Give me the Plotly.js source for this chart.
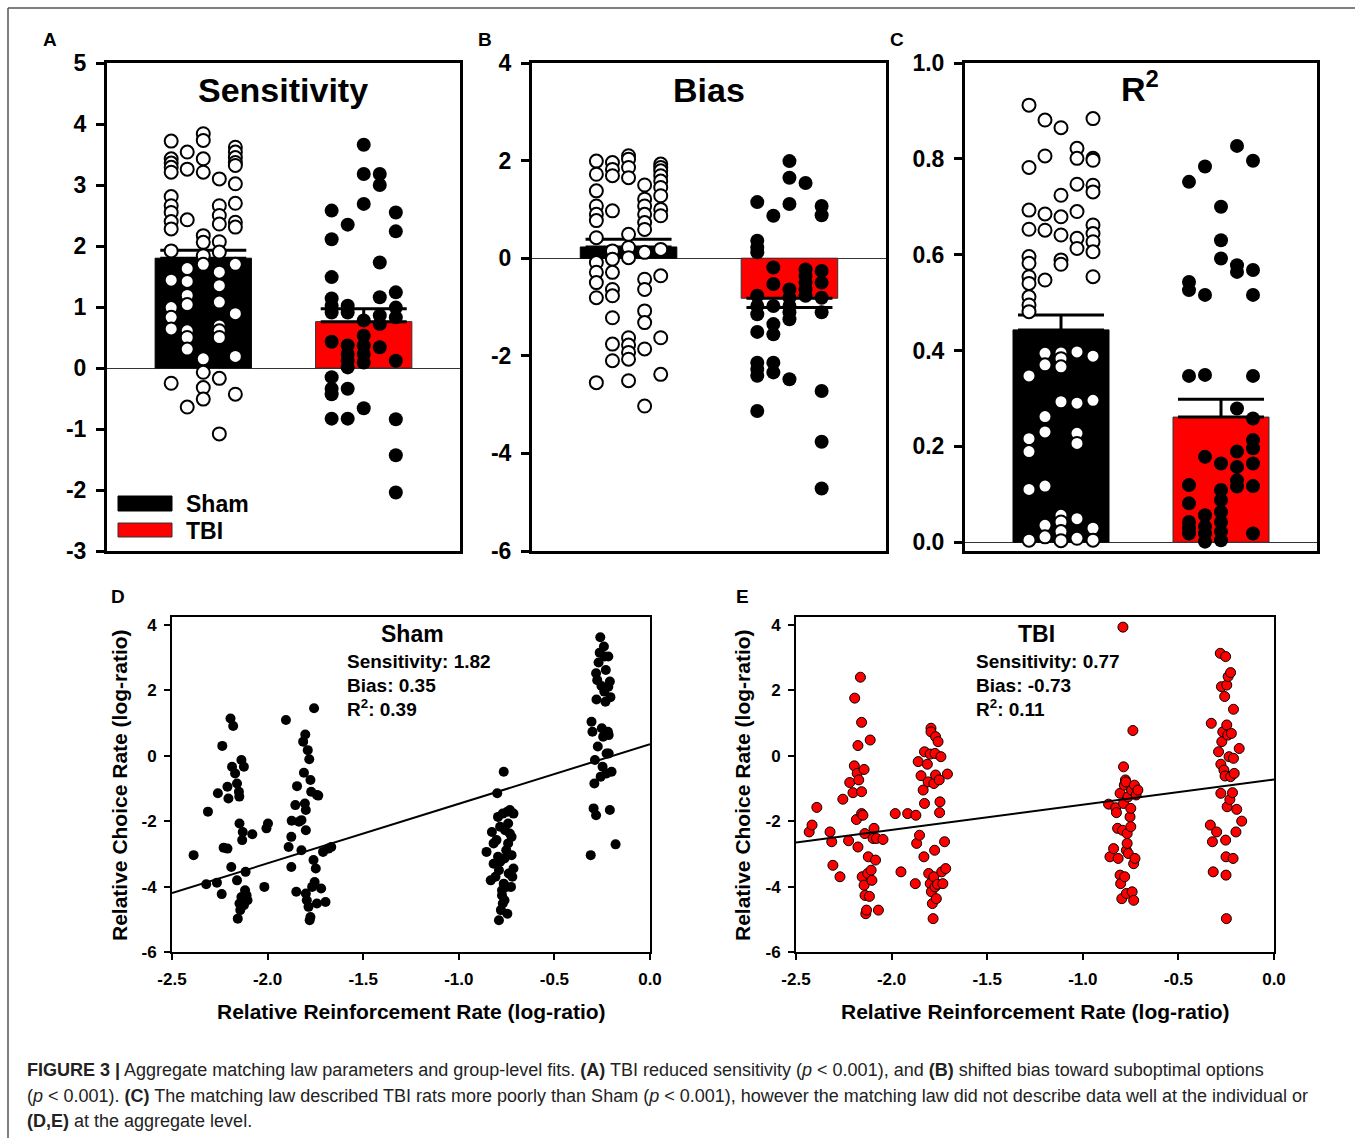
<!DOCTYPE html>
<html>
<head>
<meta charset="utf-8">
<script src="https://cdn.plot.ly/plotly-3.0.1.min.js"></script>
<style>html,body{margin:0;padding:0;background:#fff;} #chart{width:1355px;height:1138px;}</style>
</head>
<body>
<div id="chart"></div>
<script>
// ---------------- DATA ----------------
const groups = ['Sham', 'TBI'];

// Panel A: Sensitivity (individual points, by jitter column)
const sensSham = [
  [3.72,3.43,3.36,3.29,3.21,2.81,2.66,2.55,2.40,2.28,1.92,1.44,0.99,0.83,0.64,-0.25],
  [3.54,3.26,2.43,1.63,1.42,1.19,1.04,0.61,0.50,0.31,-0.64],
  [3.84,3.73,3.43,3.21,2.17,2.06,1.84,1.70,0.15,-0.07,-0.32,-0.51],
  [3.10,2.66,2.50,2.36,2.07,1.90,1.57,1.35,1.08,0.69,0.61,0.50,-0.17,-1.08],
  [3.62,3.54,3.45,3.37,3.32,3.02,2.70,2.39,2.31,1.70,0.89,0.19,-0.43]
];
const sensTBI = [
  [2.58,2.11,1.49,1.14,1.02,0.91,0.43,-0.15,-0.34,-0.43,-0.83],
  [2.35,1.02,0.91,0.37,0.23,0.12,0.01,-0.34,-0.83],
  [3.66,3.18,2.69,0.78,0.53,0.37,0.23,0.09,-0.66],
  [3.18,3.00,1.73,1.16,0.86,0.72,0.34],
  [2.55,2.24,1.24,0.99,0.83,0.12,-0.84,-1.43,-2.04]
];
const sensMean = [1.80, 0.76];
const sensSEM  = [0.13, 0.21];

// Panel B: Bias
const biasSham = [
  [1.99,1.72,1.38,1.07,0.90,0.77,0.42,-0.09,-0.29,-0.50,-0.81,-2.55],
  [1.96,1.82,1.69,0.97,0.15,-0.02,-0.29,-0.64,-0.77,-1.22,-1.76,-2.10],
  [2.10,2.03,1.86,1.65,0.49,0.22,0.01,-1.63,-1.78,-1.93,-2.07,-2.51],
  [1.50,1.21,1.07,0.90,0.73,0.59,0.12,-0.43,-0.64,-1.08,-1.32,-1.86,-3.03],
  [1.93,1.86,1.79,1.69,1.58,1.45,1.28,1.00,0.87,0.18,-0.36,-1.63,-2.38]
];
const biasTBI = [
  [1.15,0.36,0.22,0.12,-0.77,-0.98,-1.15,-1.51,-2.14,-2.27,-2.41,-3.13],
  [0.87,-0.19,-0.53,-0.98,-1.35,-1.56,-2.14,-2.34],
  [1.99,1.65,1.11,-0.64,-0.81,-0.98,-1.11,-1.25,-2.48],
  [1.54,-0.23,-0.36,-0.50,-0.64,-0.77],
  [1.07,0.88,-0.26,-0.50,-0.81,-1.11,-2.72,-3.76,-4.72]
];
const biasMean = [0.23, -0.82];
const biasSEM  = [0.16, 0.19];

// Panel C: R^2
const r2Sham = [
  [0.912,0.782,0.693,0.653,0.596,0.582,0.554,0.540,0.512,0.495,0.481,0.347,0.216,0.189,0.110,0.004],
  [0.881,0.806,0.685,0.651,0.547,0.394,0.370,0.262,0.230,0.117,0.035,0.011],
  [0.865,0.724,0.679,0.641,0.589,0.580,0.395,0.383,0.366,0.293,0.056,0.042,0.022,0.003],
  [0.822,0.801,0.747,0.690,0.634,0.613,0.397,0.290,0.227,0.206,0.049,0.008],
  [0.884,0.801,0.797,0.745,0.731,0.662,0.644,0.627,0.606,0.554,0.388,0.296,0.029,0.004]
];
const r2TBI = [
  [0.752,0.543,0.526,0.347,0.119,0.081,0.042,0.029,0.018],
  [0.784,0.516,0.349,0.178,0.056,0.032,0.018,0.001],
  [0.700,0.630,0.592,0.164,0.109,0.088,0.063,0.042,0.022,0.004],
  [0.827,0.578,0.564,0.279,0.189,0.157,0.129,0.116],
  [0.796,0.568,0.516,0.347,0.258,0.213,0.196,0.164,0.117,0.018]
];
const r2Mean = [0.443, 0.261];
const r2SEM  = [0.031, 0.037];

// Panel D: Sham aggregate (relative reinforcement rate vs relative choice rate)
const shamX = [
  -2.387,-2.321,-2.312,-2.265,-2.260,-2.240,-2.237,-2.230,-2.210,-2.210,-2.205,-2.194,-2.190,-2.180,-2.186,-2.170,-2.160,-2.160,-2.156,-2.150,-2.148,-2.147,-2.147,-2.143,-2.137,-2.137,-2.133,-2.130,-2.124,-2.124,-2.118,-2.115,-2.110,-2.105,-2.080,-2.017,-2.006,-1.998,
  -1.904,-1.890,-1.876,-1.876,-1.874,-1.855,-1.850,-1.846,-1.836,-1.823,-1.823,-1.814,-1.810,-1.805,-1.803,-1.800,-1.800,-1.800,-1.795,-1.790,-1.786,-1.782,-1.776,-1.780,-1.776,-1.772,-1.767,-1.760,-1.757,-1.754,-1.748,-1.742,-1.742,-1.735,-1.720,-1.710,-1.697,-1.682,-1.667,
  -0.855,-0.827,-0.799,-0.795,-0.790,-0.784,-0.780,-0.770,-0.765,-0.761,-0.758,-0.752,-0.746,-0.742,-0.739,-0.733,-0.724,-0.720,-0.714,-0.808,-0.818,-0.803,-0.774,-0.770,-0.752,-0.733,-0.727,-0.724,-0.742,-0.818,-0.790,-0.761,-0.765,-0.795,-0.784,-0.714,-0.833,-0.746,-0.774,
  -0.310,-0.306,-0.301,-0.295,-0.291,-0.288,-0.282,-0.282,-0.280,-0.276,-0.273,-0.269,-0.263,-0.260,-0.258,-0.254,-0.252,-0.248,-0.245,-0.241,-0.239,-0.237,-0.233,-0.231,-0.227,-0.227,-0.220,-0.218,-0.218,-0.216,-0.210,-0.207,-0.216,-0.201,-0.210,-0.180
];
const shamY = [
  -3.04,-3.93,-1.71,-3.88,-1.15,-4.23,0.30,-2.81,-2.84,-0.95,-1.31,1.14,-3.40,0.91,-0.34,-0.54,-0.85,-3.81,-4.98,-1.10,-1.25,-2.07,-4.52,-4.72,-0.13,-4.32,-2.58,-2.33,-0.34,-4.57,-4.11,-3.55,-4.27,-4.42,-2.40,-4.01,-2.22,-2.07,
  1.09,-2.79,-2.48,-3.40,-1.99,-1.51,-4.16,-0.93,-2.02,-2.89,-1.97,0.43,-0.52,-1.46,0.65,-1.66,-2.28,-4.21,-4.42,0.17,-4.62,-0.11,-4.93,-5.03,-0.74,-1.10,-4.01,-3.19,1.45,-3.86,-3.45,-1.20,-4.52,-1.22,-4.06,-2.94,-4.47,-2.84,-2.79,
  -2.94,-2.33,-1.15,-1.87,-5.03,-3.24,-4.72,-1.77,-0.49,-4.42,-2.28,-4.01,-1.71,-2.68,-3.60,-1.66,-3.04,-3.70,-3.45,-3.70,-3.30,-2.58,-4.11,-4.52,-2.89,-2.38,-4.01,-2.48,-2.07,-2.68,-3.50,-3.14,-3.91,-3.09,-2.17,-1.77,-3.81,-4.83,-4.27,
  -3.04,1.04,0.73,-1.61,-0.85,-0.13,2.52,-1.82,1.72,2.31,0.28,2.85,3.15,3.62,-0.64,2.13,0.84,-0.34,0.58,3.34,1.96,3.03,1.65,2.62,0.07,-0.54,0.73,3.03,2.11,0.63,2.27,1.79,0.07,-0.49,-1.66,-2.71
];

// Panel E: TBI aggregate
const tbiX = [
  -2.431,-2.416,-2.391,-2.322,-2.313,-2.307,-2.270,-2.255,-2.225,-2.219,-2.202,-2.195,-2.193,-2.184,-2.180,-2.176,-2.176,-2.172,-2.163,-2.157,-2.157,-2.157,-2.154,-2.150,-2.144,-2.144,-2.140,-2.139,-2.135,-2.131,-2.125,-2.122,-2.116,-2.112,-2.107,-2.103,-2.097,-2.092,-2.084,-2.079,-2.069,-2.045,
  -1.981,-1.951,-1.916,-1.876,-1.873,-1.869,-1.861,-1.854,-1.846,-1.835,-1.831,-1.828,-1.828,-1.813,-1.809,-1.806,-1.798,-1.798,-1.794,-1.794,-1.792,-1.787,-1.783,-1.779,-1.779,-1.775,-1.773,-1.773,-1.770,-1.770,-1.766,-1.760,-1.757,-1.751,-1.749,-1.747,-1.742,-1.738,-1.732,-1.723,-1.717,-1.708,
  -0.865,-0.858,-0.839,-0.828,-0.824,-0.818,-0.815,-0.805,-0.805,-0.802,-0.796,-0.792,-0.790,-0.787,-0.787,-0.783,-0.781,-0.777,-0.775,-0.772,-0.772,-0.768,-0.768,-0.764,-0.762,-0.753,-0.749,-0.749,-0.745,-0.742,-0.738,-0.734,-0.734,-0.730,-0.727,-0.721,-0.712,
  -0.333,-0.328,-0.322,-0.318,-0.300,-0.290,-0.281,-0.278,-0.278,-0.275,-0.273,-0.268,-0.262,-0.258,-0.256,-0.253,-0.253,-0.251,-0.251,-0.249,-0.247,-0.247,-0.245,-0.242,-0.240,-0.235,-0.231,-0.227,-0.227,-0.223,-0.217,-0.214,-0.212,-0.212,-0.208,-0.199,-0.195,-0.182,-0.169
];
const tbiY = [
  -2.33,-2.12,-1.58,-2.33,-2.63,-3.35,-3.70,-1.33,-2.60,-0.82,-1.13,-0.31,1.76,-1.95,-0.54,-2.79,0.31,-0.74,2.40,1.02,-1.10,-1.77,-3.70,-1.82,-3.96,-0.42,-2.38,-4.27,-4.83,-4.72,-3.60,-3.09,-4.30,0.48,-3.50,-3.81,-2.53,-2.22,-3.19,-2.53,-4.72,-2.56,
  -1.77,-3.55,-1.77,-3.91,-1.82,-2.68,-0.18,-2.43,-0.61,-1.05,-3.09,-1.46,0.12,-0.26,-0.80,-3.60,0.05,-3.91,0.84,0.73,-4.16,-4.52,-4.98,-0.85,-3.70,-2.89,0.07,-4.01,-0.59,0.58,-4.37,-3.93,0.43,-0.74,-1.74,-1.41,-0.03,-3.55,-3.91,-2.63,-3.45,-0.56,
  -1.48,-3.09,-2.84,-1.59,-1.74,-2.22,-3.14,-1.15,-3.65,-3.91,-4.37,-2.28,3.93,-0.34,-1.46,-0.90,-3.70,-0.74,-0.80,-4.21,-2.89,-2.38,-2.68,-1.26,-2.99,-1.87,-1.61,-2.17,-1.05,-4.16,0.77,-3.30,-4.42,-0.90,-3.14,-1.20,-1.05,
  -2.12,0.99,-2.63,-3.55,-2.33,0.12,3.13,-0.26,-1.15,2.11,0.43,0.73,-0.44,1.81,-0.62,3.03,-2.58,-3.09,-3.65,-4.98,2.16,0.94,-1.56,0.63,2.42,-0.03,-1.34,2.54,-0.64,0.68,-1.13,-3.14,1.42,-0.08,-0.54,-2.33,-1.64,0.22,-2.00
];

// Group-level matching law fits: [Sham, TBI]
const fitSens = [1.82, 0.77];
const fitBias = [0.35, -0.73];
const fitR2   = [0.39, 0.11];

// Tick labels
const ticksA = [-3,-2,-1,0,1,2,3,4,5];
const ticksB = [-6,-4,-2,0,2,4];
const ticksC = [0,0.2,0.4,0.6,0.8,1.0];
const ticksDEy = [-6,-4,-2,0,2,4];
const ticksDEx = [-2.5,-2.0,-1.5,-1.0,-0.5,0.0];

// ---------------- BUILD ----------------
const W = 1355, H = 1138;
const FONT = 'Liberation Sans, Arial, Helvetica, sans-serif';
const px = x => x / W;
const py = y => 1 - y / H;
const colStep = 0.1;

function jitterTrace(cols, gIdx, xa, ya, style) {
  const xs = [], ys = [];
  cols.forEach((col, ci) => col.forEach(v => { xs.push(gIdx + (ci - 2) * colStep); ys.push(v); }));
  return Object.assign({type:'scatter', mode:'markers', x:xs, y:ys, xaxis:xa, yaxis:ya,
    hoverinfo:'skip', showlegend:false, cliponaxis:false}, style);
}
const openStyle = {marker:{symbol:'circle', size:13, color:'white', line:{color:'black', width:2}}};
const fillStyle = {marker:{symbol:'circle', size:14, color:'black', line:{color:'black', width:0}}};

function barTrace(means, sems, xa, ya) {
  return {type:'bar', x:[0,1], y:means, width:0.6, xaxis:xa, yaxis:ya, showlegend:false,
    marker:{color:['#000000','#ff0000'], line:{color:['#000000','#333333'], width:1}},
    error_y:{type:'data', symmetric:false,
      array: means.map((m,i)=> m>=0 ? sems[i] : 0),
      arrayminus: means.map((m,i)=> m<0 ? sems[i] : 0),
      color:'black', thickness:3, width:43}};
}

const traces = [
  barTrace(sensMean, sensSEM, 'x', 'y'),
  jitterTrace(sensSham, 0, 'x', 'y', openStyle),
  jitterTrace(sensTBI, 1, 'x', 'y', fillStyle),
  barTrace(biasMean, biasSEM, 'x2', 'y2'),
  jitterTrace(biasSham, 0, 'x2', 'y2', openStyle),
  jitterTrace(biasTBI, 1, 'x2', 'y2', fillStyle),
  barTrace(r2Mean, r2SEM, 'x3', 'y3'),
  jitterTrace(r2Sham, 0, 'x3', 'y3', openStyle),
  jitterTrace(r2TBI, 1, 'x3', 'y3', fillStyle),
];

// Scatter D/E
traces.push({type:'scatter', mode:'markers', x:shamX, y:shamY, xaxis:'x4', yaxis:'y4', showlegend:false,
  marker:{size:10, color:'black', line:{color:'black', width:0}}});
traces.push({type:'scatter', mode:'markers', x:tbiX, y:tbiY, xaxis:'x5', yaxis:'y5', showlegend:false,
  marker:{size:10, color:'#ff0000', line:{color:'black', width:1}}});
// fit lines across the axis range
const xr = [ticksDEx[0], ticksDEx[ticksDEx.length-1]];
[0,1].forEach(g => {
  traces.push({type:'scatter', mode:'lines', x:xr, y:xr.map(x => fitSens[g]*x + fitBias[g]),
    xaxis: g===0 ? 'x4' : 'x5', yaxis: g===0 ? 'y4' : 'y5', showlegend:false,
    line:{color:'black', width:2}});
});

function barX(l, r, anchor) {
  return {domain:[px(l), px(r)], range:[-0.6, 1.6], anchor:anchor, showline:true, linewidth:3, linecolor:'black',
    mirror:true, showticklabels:false, ticks:'', showgrid:false, zeroline:false, fixedrange:true};
}
function barY(range, ticks, fmt, anchor) {
  return {domain:[py(551), py(63)], range:range, anchor:anchor, showline:true, linewidth:3, linecolor:'black', mirror:true,
    ticks:'outside', ticklen:8, tickwidth:3, tickcolor:'black', tickvals:ticks, ticktext:ticks.map(fmt),
    tickfont:{family:FONT, size:23, color:'black', weight:'bold'}, ticklabelstandoff:5,
    showgrid:false, zeroline:true, zerolinecolor:'#333', zerolinewidth:1, fixedrange:true};
}
function sX(l, r, anchor) {
  return {domain:[px(l), px(r)], range:[-2.5, 0], anchor:anchor, showline:true, linewidth:2, linecolor:'black', mirror:true,
    ticks:'outside', ticklen:6, tickwidth:2, tickcolor:'black', tickvals:ticksDEx, ticktext:ticksDEx.map(v=>v.toFixed(1)),
    tickfont:{family:FONT, size:17, color:'black', weight:'bold'}, ticklabelstandoff:5,
    showgrid:false, zeroline:false, fixedrange:true};
}
function sY(anchor) {
  return {domain:[py(952), py(617)], range:[-6, 4.24], anchor:anchor, showline:true, linewidth:2, linecolor:'black', mirror:true,
    ticks:'outside', ticklen:6, tickwidth:2, tickcolor:'black', tickvals:ticksDEy, ticktext:ticksDEy.map(String),
    tickfont:{family:FONT, size:17, color:'black', weight:'bold'}, ticklabelstandoff:4,
    showgrid:false, zeroline:false, fixedrange:true};
}

const ann = [];
function txt(text, x, y, size, opts) {
  ann.push(Object.assign({text:text, xref:'paper', yref:'paper', x:px(x), y:py(y), showarrow:false,
    xanchor:'center', yanchor:'middle', font:{family:FONT, size:size, color:'black', weight:'bold'}}, opts||{}));
}
// panel letters
txt('A', 50, 40, 19); txt('B', 485, 40, 19); txt('C', 897, 40, 19);
txt('D', 118, 596, 19); txt('E', 742, 596, 19);
// panel titles
txt('Sensitivity', 283, 90, 34); txt('Bias', 709, 90, 34); txt('R<sup>2</sup>', 1140, 86, 34);
// legend labels
txt(groups[0], 184, 504, 23, {xanchor:'left'});
txt(groups[1], 184, 531, 23, {xanchor:'left'});
// D / E annotations
txt(groups[0], 412, 634, 23);
txt('Sensitivity: ' + fitSens[0].toFixed(2), 345, 661, 19, {xanchor:'left'});
txt('Bias: ' + fitBias[0].toFixed(2), 345, 685, 19, {xanchor:'left'});
txt('R<sup>2</sup>: ' + fitR2[0].toFixed(2), 345, 708, 19, {xanchor:'left'});
txt(groups[1], 1036, 634, 23);
txt('Sensitivity: ' + fitSens[1].toFixed(2), 974, 661, 19, {xanchor:'left'});
txt('Bias: ' + fitBias[1].toFixed(2), 974, 685, 19, {xanchor:'left'});
txt('R<sup>2</sup>: ' + fitR2[1].toFixed(2), 974, 708, 19, {xanchor:'left'});
// axis titles
const yTitle = 'Relative Choice Rate (log-ratio)';
const xTitle = 'Relative Reinforcement Rate (log-ratio)';
txt(yTitle, 119, 785, 21, {textangle:-90});
txt(yTitle, 742, 785, 21, {textangle:-90});
txt(xTitle, 411, 1011, 21);
txt(xTitle, 1035, 1011, 21);
// caption
const capFont = {family:FONT, size:18, color:'#222', weight:'normal'};
const cap = [
  '<b>FIGURE 3 |</b> Aggregate matching law parameters and group-level fits. <b>(A)</b> TBI reduced sensitivity (<i>p</i> &lt; 0.001), and <b>(B)</b> shifted bias toward suboptimal options',
  '(<i>p</i> &lt; 0.001). <b>(C)</b> The matching law described TBI rats more poorly than Sham (<i>p</i> &lt; 0.001), however the matching law did not describe data well at the individual or',
  '<b>(D,E)</b> at the aggregate level.'
];
[1070, 1096, 1121].forEach((y, i) => txt(cap[i], 25, y, 18, {xanchor:'left', font:capFont}));

const shapes = [
  // figure frame
  {type:'line', xref:'paper', yref:'paper', x0:px(8), x1:1, y0:py(8), y1:py(8), line:{color:'#555', width:1.5}},
  {type:'line', xref:'paper', yref:'paper', x0:px(8), x1:px(8), y0:py(8), y1:0, line:{color:'#555', width:1.5}},
  // legend swatches
  {type:'rect', xref:'paper', yref:'paper', x0:px(118), x1:px(172), y0:py(511), y1:py(496), fillcolor:'#000', line:{color:'#000', width:1}},
  {type:'rect', xref:'paper', yref:'paper', x0:px(118), x1:px(172), y0:py(537), y1:py(523), fillcolor:'#ff0000', line:{color:'#333', width:1}}
];

const layout = {
  width: W, height: H, margin:{l:0, r:0, t:0, b:0}, paper_bgcolor:'white', plot_bgcolor:'rgba(0,0,0,0)',
  showlegend:false, font:{family:FONT, color:'black'},
  xaxis: barX(107, 460, 'y'), yaxis: barY([-3,5], ticksA, String, 'x'),
  xaxis2: barX(532, 886, 'y2'), yaxis2: barY([-6,4], ticksB, String, 'x2'),
  xaxis3: barX(965, 1317, 'y3'), yaxis3: barY([-0.0185,1.0], ticksC, v=>v.toFixed(1), 'x3'),
  xaxis4: sX(172, 650, 'y4'), yaxis4: sY('x4'),
  xaxis5: sX(796, 1274, 'y5'), yaxis5: sY('x5'),
  annotations: ann, shapes: shapes
};

Plotly.newPlot('chart', traces, layout, {displayModeBar:false, staticPlot:true});
</script>
</body>
</html>
